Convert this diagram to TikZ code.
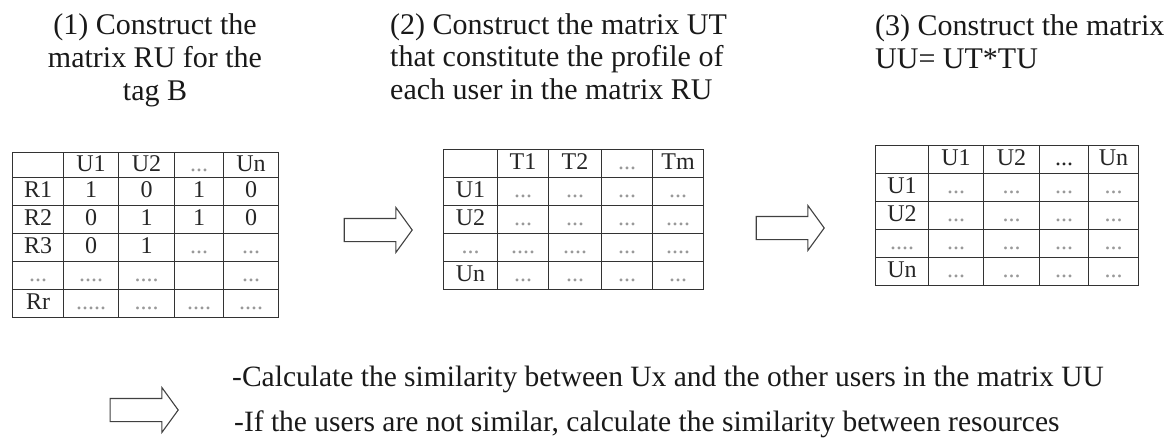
\documentclass[tikz,border=0pt]{standalone}
\usepackage{fontspec}
\setmainfont{Liberation Serif}
\usetikzlibrary{matrix, shapes.arrows}

\begin{document}
\begin{tikzpicture}[x=1pt, y=-1pt, font=\fontsize{30}{33}\selectfont]
    \tikzset{
        tbl/.style={matrix of nodes, nodes in empty cells, anchor=north west,
            column sep=-1.1pt, row sep=-1.1pt, inner sep=0pt, outer sep=0pt,
            nodes={draw=black!80, line width=1.1pt, inner sep=0pt, outer sep=0pt,
                font=\fontsize{24}{24}\selectfont, text=black!85,
                text height=16pt, text depth=4pt, minimum height=28pt}},
        dots/.style={text=black!40},
        blockarrow/.style={draw=black!75, line width=1.1pt, single arrow,
            single arrow head extend=11pt, single arrow tip angle=108,
            minimum height=68pt, inner xsep=0pt, inner ysep=11pt},
        title/.style={align=left, anchor=base west, inner sep=0pt, text=black!90},
    }
    \useasboundingbox (0,0) rectangle (1175,441);

    % titles
    \node[title, align=center, anchor=base] (ttl1) at (155,101)
        {(1) Construct the\\ matrix RU for the\\ tag B};
    \node[title] (ttl2) at (390,100)
        {(2) Construct the matrix UT\\ that constitute the profile of\\ each user in the matrix RU};
    \node[title] (ttl3) at (875,69)
        {(3) Construct the matrix\\ UU= UT*TU};

    % matrix RU
    \matrix[tbl,
        column 1/.style={nodes={minimum width=51pt}},
        column 2/.style={nodes={minimum width=55pt}},
        column 3/.style={nodes={minimum width=56pt}},
        column 4/.style={nodes={minimum width=49pt}},
        column 5/.style={nodes={minimum width=55pt}},
        row 1/.style={nodes={minimum height=25pt}}] (ru) at (12,152) {
          & U1 & U2 & |[dots]| ... & Un \\
        R1 & 1 & 0 & 1 & 0 \\
        R2 & 0 & 1 & 1 & 0 \\
        R3 & 0 & 1 & |[dots]| ... & |[dots]| ... \\
        |[dots]| ... & |[dots]| .... & |[dots]| .... & & |[dots]| ... \\
        Rr & |[dots]| ..... & |[dots]| .... & |[dots]| .... & |[dots]| .... \\
    };

    % matrix UT
    \matrix[tbl,
        column 1/.style={nodes={minimum width=54pt}},
        column 2/.style={nodes={minimum width=51pt}},
        column 3/.style={nodes={minimum width=53pt}},
        column 4/.style={nodes={minimum width=51pt}},
        column 5/.style={nodes={minimum width=51pt}}] (ut) at (443,149) {
          & T1 & T2 & |[dots]| ... & Tm \\
        U1 & |[dots]| ... & |[dots]| ... & |[dots]| ... & |[dots]| ... \\
        U2 & |[dots]| ... & |[dots]| ... & |[dots]| ... & |[dots]| .... \\
        |[dots]| ... & |[dots]| .... & |[dots]| .... & |[dots]| ... & |[dots]| .... \\
        Un & |[dots]| ... & |[dots]| ... & |[dots]| ... & |[dots]| ... \\
    };

    % matrix UU
    \matrix[tbl,
        column 1/.style={nodes={minimum width=53pt}},
        column 2/.style={nodes={minimum width=55pt}},
        column 3/.style={nodes={minimum width=56pt}},
        column 4/.style={nodes={minimum width=49pt}},
        column 5/.style={nodes={minimum width=50pt}}] (uu) at (875,145) {
          & U1 & U2 & ... & Un \\
        U1 & |[dots]| ... & |[dots]| ... & |[dots]| ... & |[dots]| ... \\
        U2 & |[dots]| ... & |[dots]| ... & |[dots]| ... & |[dots]| ... \\
        |[dots]| .... & |[dots]| ... & |[dots]| ... & |[dots]| ... & |[dots]| ... \\
        Un & |[dots]| ... & |[dots]| ... & |[dots]| ... & |[dots]| ... \\
    };

    % block arrows
    \node[blockarrow] (arr1) at (374,230) {};
    \node[blockarrow] (arr2) at (786,228) {};
    \node[blockarrow] (arr3) at (140,410) {};

    % last step
    \node[title, font=\fontsize{29.5}{33}\selectfont] (calc) at (232,386)
        {-Calculate the similarity between Ux and the other users in the matrix UU};
    \node[title, font=\fontsize{29.5}{33}\selectfont] (res) at (234,431)
        {-If the users are not similar, calculate the similarity between resources};
\end{tikzpicture}
\end{document}
